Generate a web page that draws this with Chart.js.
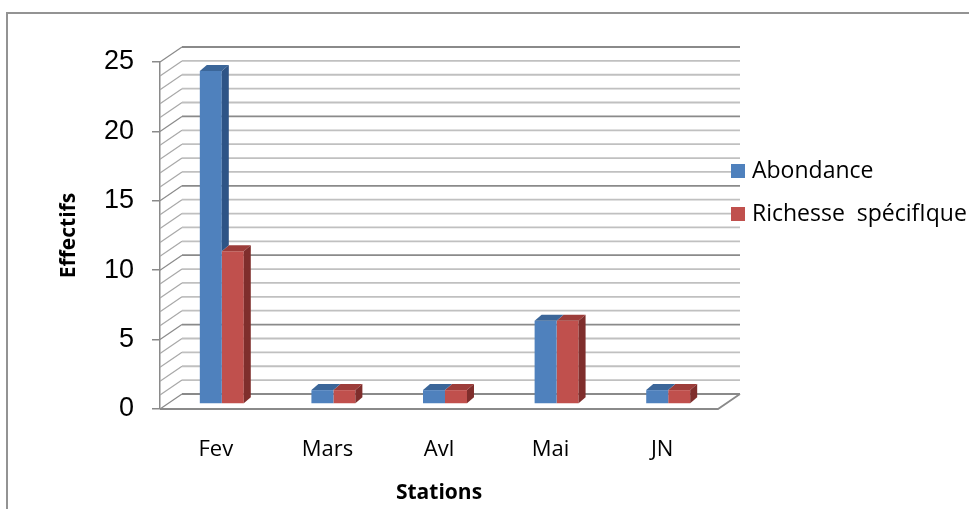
<!DOCTYPE html>
<html>
<head>
<meta charset="utf-8">
<title>Effectifs par station</title>
<script src="https://cdn.jsdelivr.net/npm/chart.js@4"></script>
<style>
  html, body { margin: 0; padding: 0; background: #fff; overflow: hidden; }
  #wrap { position: relative; width: 969px; height: 509px; overflow: hidden; }
  #frame { position: absolute; left: 6px; top: 12px; width: 980px; height: 520px; border: 2px solid #939393; }
  canvas { position: absolute; left: 0; top: 0; }
</style>
</head>
<body>
<div id="wrap">
  <div id="frame"></div>
  <canvas id="chart" width="969" height="509"></canvas>
</div>
<script>
// ─────────────────────────────────────────
// données
// ─────────────────────────────────────────
const stations   = ['Fev', 'Mars', 'Avl', 'Mai', 'JN'];
const abondance  = [24, 1, 1, 6, 1];
const richesse   = [11, 1, 1, 6, 1];
const nomsSeries = ['Abondance', 'Richesse  spécifIque'];
const yMin = 0, yMax = 25, yPas = 5;

// couleurs (face avant, dessus, côté)
const BLEU  = { face: '#4f81bd', top: '#3b6699', side: '#2e5486' };
const ROUGE = { face: '#c0504d', top: '#9d3d3a', side: '#7f2e2c' };

// profondeur "3D"
const MUR_DX = 22, MUR_DY = 15;   // mur du fond
const BAR_DX = 7,  BAR_DY = 6;    // épaisseur des barres
const DECAL_X = 6, DECAL_Y = 5;   // barres placées un peu en profondeur

// ─────────────────────────────────────────
// plugin : murs, faces 3D, légende
// ─────────────────────────────────────────
function facesBarre(ctx, bar, voisin, c) {
  const { x, y, base, width } = bar.getProps(['x', 'y', 'base', 'width'], true);
  const l = x - width / 2, r = x + width / 2;

  ctx.fillStyle = c.top;
  ctx.beginPath();
  ctx.moveTo(l, y);
  ctx.lineTo(l + BAR_DX, y - BAR_DY);
  ctx.lineTo(r + BAR_DX, y - BAR_DY);
  ctx.lineTo(r, y);
  ctx.closePath();
  ctx.fill();

  const fin = voisin ? Math.min(base, voisin.y) : base;
  if (fin > y) {
    ctx.fillStyle = c.side;
    ctx.beginPath();
    ctx.moveTo(r, y);
    ctx.lineTo(r + BAR_DX, y - BAR_DY);
    ctx.lineTo(r + BAR_DX, fin - BAR_DY);
    ctx.lineTo(r, fin);
    ctx.closePath();
    ctx.fill();
  }
}

const effet3D = {
  id: 'effet3D',
  beforeDatasetsDraw(chart) {
    const { ctx, chartArea: a, scales: { y } } = chart;
    ctx.save();
    for (let v = yMin; v <= yMax; v++) {
      const py = y.getPixelForValue(v);
      const majeur = v % yPas === 0;
      // mur de gauche (diagonales fines)
      ctx.strokeStyle = majeur ? '#8a8a8a' : '#a8a8a8';
      ctx.lineWidth = 1.2;
      ctx.beginPath();
      ctx.moveTo(a.left, py);
      ctx.lineTo(a.left + MUR_DX, py - MUR_DY);
      ctx.stroke();
      // mur du fond
      ctx.strokeStyle = majeur ? '#8a8a8a' : '#c0c0c0';
      ctx.lineWidth = majeur ? 1.8 : 1.8;
      ctx.beginPath();
      ctx.moveTo(a.left + MUR_DX, py - MUR_DY);
      ctx.lineTo(a.right + MUR_DX, py - MUR_DY);
      ctx.stroke();
    }
    // bord avant du sol
    const p0 = y.getPixelForValue(yMin);
    ctx.strokeStyle = '#8a8a8a';
    ctx.lineWidth = 1.8;
    ctx.beginPath();
    ctx.moveTo(a.left, p0);
    ctx.lineTo(a.right, p0);
    ctx.lineTo(a.right + MUR_DX, p0 - MUR_DY);
    ctx.stroke();
    ctx.restore();

    ctx.save();
    ctx.translate(DECAL_X, -DECAL_Y);
  },
  afterDatasetsDraw(chart) {
    const { ctx } = chart;
    const couleurs = [BLEU, ROUGE];
    const n = chart.data.datasets.length;
    for (let d = n - 1; d >= 0; d--) {
      const meta = chart.getDatasetMeta(d);
      const suivant = d + 1 < n ? chart.getDatasetMeta(d + 1) : null;
      meta.data.forEach((bar, i) => {
        facesBarre(ctx, bar, suivant ? suivant.data[i] : null, couleurs[d]);
      });
    }
    ctx.restore();
  },
  afterDraw(chart) {
    const { ctx, chartArea: a } = chart;
    ctx.save();
    ctx.font = '23px "Open Sans"';
    ctx.textBaseline = 'middle';
    chart.data.datasets.forEach((ds, i) => {
      const cy = a.top + 109 + i * 43;
      ctx.fillStyle = ds.backgroundColor;
      ctx.fillRect(a.right + 13, cy - 7, 14, 14);
      ctx.fillStyle = '#000';
      ctx.fillText(ds.label, a.right + 34, cy);
    });
    ctx.restore();
  }
};

// ─────────────────────────────────────────
// graphique
// ─────────────────────────────────────────
new Chart(document.getElementById('chart'), {
  type: 'bar',
  data: {
    labels: stations,
    datasets: [
      { label: nomsSeries[0], data: abondance, backgroundColor: BLEU.face },
      { label: nomsSeries[1], data: richesse,  backgroundColor: ROUGE.face },
    ],
  },
  options: {
    responsive: false,
    animation: false,
    devicePixelRatio: 1,
    layout: { padding: { top: 62, right: 251, left: 0, bottom: 0 } },
    datasets: { bar: { categoryPercentage: 0.394, barPercentage: 1 } },
    plugins: { legend: { display: false }, tooltip: { enabled: false } },
    scales: {
      x: {
        grid: { display: false, drawTicks: false },
        border: { display: false },
        ticks: { color: '#000', padding: 28, font: { family: 'Open Sans', size: 22 } },
        title: {
          display: true, text: 'Stations', color: '#000',
          font: { family: 'Open Sans', size: 21, weight: 'bold' },
          padding: { top: 0, bottom: 3 },
        },
        afterFit: s => { s.height = 100; },
      },
      y: {
        min: yMin, max: yMax,
        ticks: { stepSize: yPas, color: '#000', padding: 18, font: { family: 'Liberation Sans', size: 27 } },
        grid: { drawOnChartArea: false, tickLength: 8, color: '#8a8a8a', lineWidth: 1.5 },
        border: { color: '#8a8a8a', width: 1.5 },
        title: {
          display: true, text: 'Effectifs', color: '#000',
          font: { family: 'Open Sans', size: 21, weight: 'bold' },
          padding: { top: 56, bottom: 0 },
        },
        afterFit: s => { s.width = 160; },
      },
    },
  },
  plugins: [effet3D],
});
</script>
</body>
</html>
